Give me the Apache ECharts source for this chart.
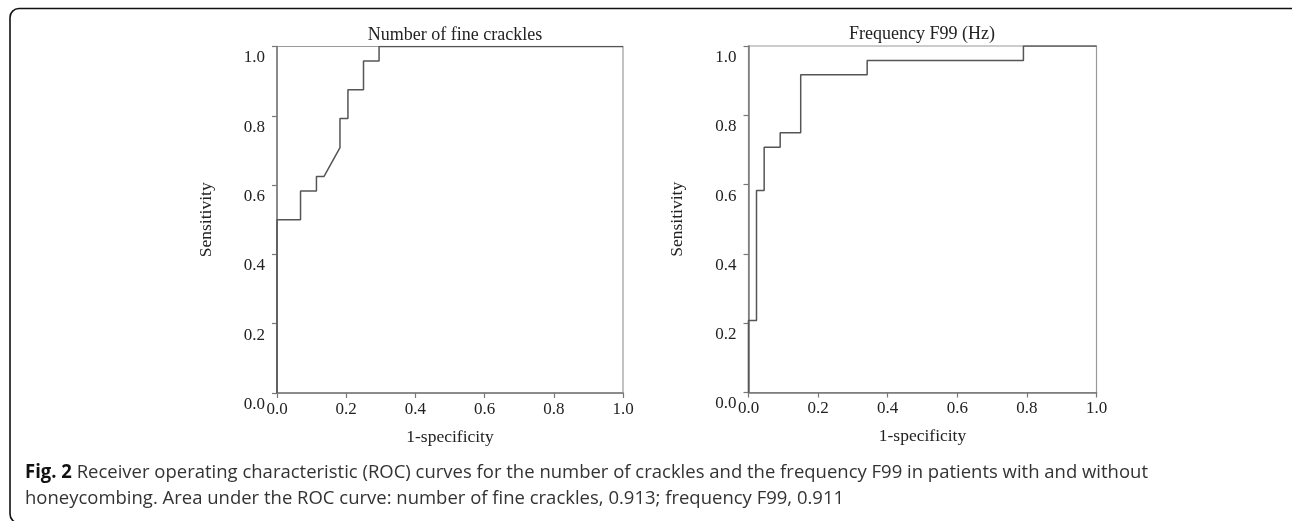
<!DOCTYPE html>
<html>
<head>
<meta charset="utf-8">
<script src="https://cdn.jsdelivr.net/npm/echarts@6/dist/echarts.min.js"></script>
<style>
html,body{margin:0;padding:0;background:#fff;}
#chart{width:1292px;height:521px;}
</style>
</head>
<body>
<div id="chart"></div>
<script>
// ---- data ----
var titles = ['Number of fine crackles', 'Frequency F99 (Hz)'];
var tickValues = [0, 0.2, 0.4, 0.6, 0.8, 1.0];
// Left ROC: number of fine crackles (vertices of the curve)
var crackFpr = [0, 0, 0.068, 0.068, 0.114, 0.114, 0.136, 0.182, 0.182, 0.205, 0.205, 0.25, 0.25, 0.295, 0.295, 1];
var crackTpr = [0, 0.5, 0.5, 0.583, 0.583, 0.625, 0.625, 0.708, 0.792, 0.792, 0.875, 0.875, 0.958, 0.958, 1, 1];
// Right ROC: frequency F99
var freqFpr = [0, 0, 0.023, 0.023, 0.045, 0.045, 0.091, 0.091, 0.15, 0.15, 0.341, 0.341, 0.79, 0.79, 1];
var freqTpr = [0, 0.208, 0.208, 0.583, 0.583, 0.708, 0.708, 0.75, 0.75, 0.917, 0.917, 0.958, 0.958, 1, 1];
var captionBold = 'Fig. 2';
var captionLine1 = ' Receiver operating characteristic (ROC) curves for the number of crackles and the frequency F99 in patients with and without';
var captionLine2 = 'honeycombing. Area under the ROC curve: number of fine crackles, 0.913; frequency F99, 0.911';

function zip(a, b) { return a.map(function (v, i) { return [v, b[i]]; }); }

var serif = '"Liberation Serif", "Times New Roman", serif';
var axisColor = '#777';

function fmt(v) { return v.toFixed(1); }

function xAx(idx) {
  return {
    gridIndex: idx, type: 'value', min: 0, max: 1, interval: 0.2,
    name: '1-specificity', nameLocation: 'middle', nameGap: 35,
    nameTextStyle: { fontFamily: serif, fontSize: 17.5, color: '#222' },
    axisLine: { show: true, lineStyle: { color: axisColor, width: 1.5 } },
    axisTick: { show: true, inside: false, length: 5, lineStyle: { color: axisColor, width: 1.2 } },
    axisLabel: { margin: 8, fontFamily: serif, fontSize: 17, color: '#222', formatter: fmt },
    splitLine: { show: false }
  };
}
function yAx(idx) {
  return {
    gridIndex: idx, type: 'value', min: 0, max: 1, interval: 0.2,
    name: 'Sensitivity', nameLocation: 'middle', nameGap: 62,
    nameTextStyle: { fontFamily: serif, fontSize: 17.5, color: '#222' },
    axisLine: { show: true, lineStyle: { color: axisColor, width: 1.5 } },
    axisTick: { show: true, inside: false, length: 5, lineStyle: { color: axisColor, width: 1.2 } },
    axisLabel: { margin: 12, fontFamily: serif, fontSize: 17, color: '#222', verticalAlign: 'top', padding: [3, 0, 0, 0], formatter: fmt },
    splitLine: { show: false }
  };
}

// measure caption width to condense the sans font like the reference
var capFontSize = 19;
var ctx = document.createElement('canvas').getContext('2d');
ctx.font = 'bold ' + capFontSize + 'px "Open Sans"';
var wBold = ctx.measureText(captionBold).width;
ctx.font = capFontSize + 'px "Open Sans"';
var w1 = ctx.measureText(captionLine1).width;
var targetW = 1123;
var sx = targetW / (wBold + w1);

var chart = echarts.init(document.getElementById('chart'), null, { renderer: 'canvas' });
chart.setOption({
  backgroundColor: '#fff',
  animation: false,
  title: [
    { text: titles[0], left: 450, top: 21, textAlign: 'center', textStyle: { fontFamily: serif, fontSize: 18, fontWeight: 'normal', color: '#222' } },
    { text: titles[1], left: 917, top: 20, textAlign: 'center', textStyle: { fontFamily: serif, fontSize: 18, fontWeight: 'normal', color: '#222' } }
  ],
  grid: [
    { left: 277, top: 46.5, width: 346, height: 346.5, show: true, borderColor: '#999', borderWidth: 1.2, containLabel: false },
    { left: 748.5, top: 46, width: 348, height: 346.5, show: true, borderColor: '#999', borderWidth: 1.2, containLabel: false }
  ],
  xAxis: [xAx(0), xAx(1)],
  yAxis: [yAx(0), yAx(1)],
  series: [
    { type: 'line', xAxisIndex: 0, yAxisIndex: 0, data: zip(crackFpr, crackTpr), showSymbol: false, symbol: 'none',
      lineStyle: { color: '#555', width: 1.5 } },
    { type: 'line', xAxisIndex: 1, yAxisIndex: 1, data: zip(freqFpr, freqTpr), showSymbol: false, symbol: 'none',
      lineStyle: { color: '#555', width: 1.5 } }
  ],
  graphic: [
    { type: 'rect', shape: { x: 10, y: 8.5, width: 1320, height: 514.5, r: 9 }, style: { fill: 'none', stroke: '#111', lineWidth: 1.6 }, silent: true },
    { type: 'group', x: 25, y: 473, scaleX: sx, children: [
      { type: 'text', x: 0, y: 0, style: { text: captionBold, font: 'bold ' + capFontSize + 'px "Open Sans"', fill: '#111', textVerticalAlign: 'middle', verticalAlign: 'middle' } },
      { type: 'text', x: wBold, y: 0, style: { text: captionLine1, font: capFontSize + 'px "Open Sans"', fill: '#333', textVerticalAlign: 'middle', verticalAlign: 'middle' } },
      { type: 'text', x: 0, y: 26, style: { text: captionLine2, font: capFontSize + 'px "Open Sans"', fill: '#333', textVerticalAlign: 'middle', verticalAlign: 'middle' } }
    ] }
  ]
});
</script>
</body>
</html>
